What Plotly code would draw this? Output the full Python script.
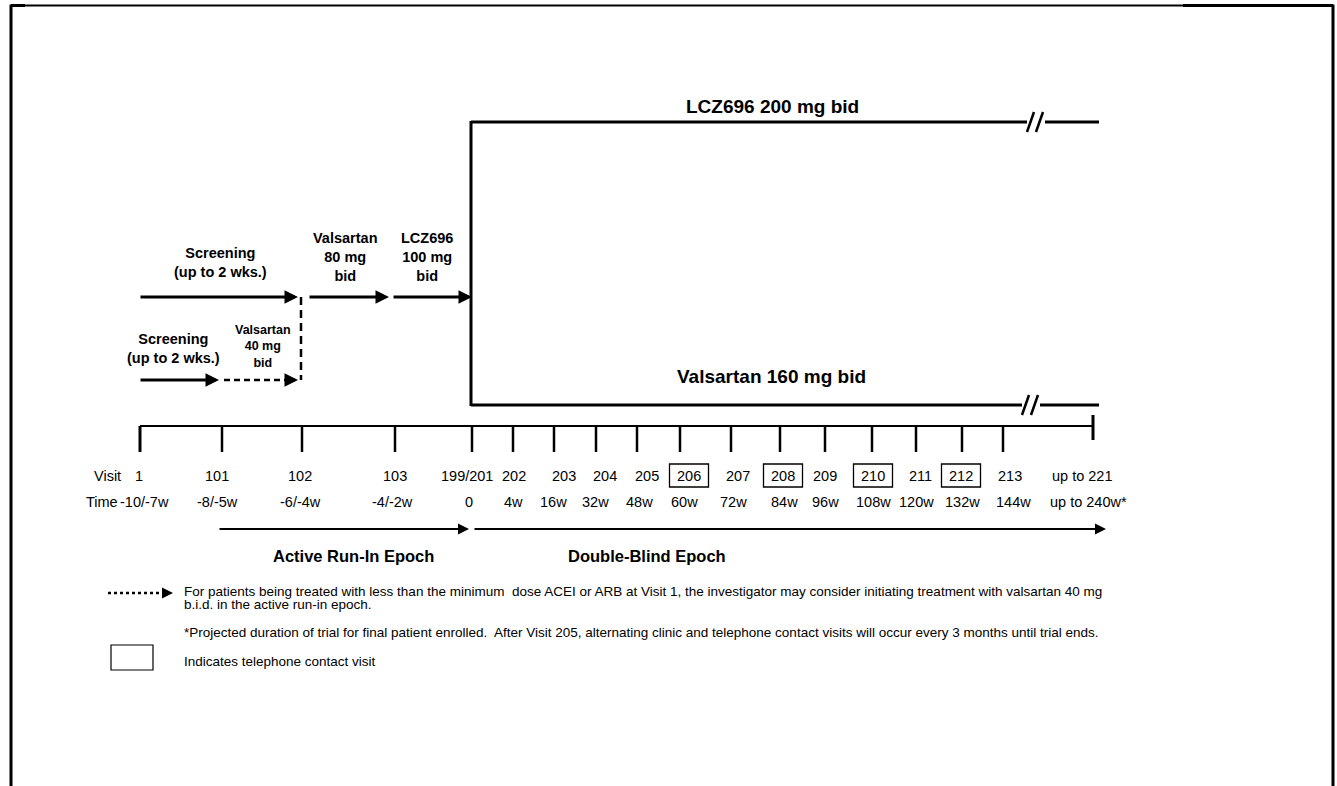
import plotly.graph_objects as go

# ---------------- data ----------------
visit_labels = ["1", "101", "102", "103", "199/201", "202", "203", "204", "205",
                "206", "207", "208", "209", "210", "211", "212", "213", "up to 221"]
time_labels = ["-10/-7w", "-8/-5w", "-6/-4w", "-4/-2w", "0", "4w", "16w", "32w", "48w",
               "60w", "72w", "84w", "96w", "108w", "120w", "132w", "144w", "up to 240w*"]
# position of each visit along the (schematic) timeline
visit_pos = [140, 222, 302, 395, 472, 513, 554, 596, 637, 680, 731, 780, 825, 872,
             916, 962, 1003, 1093]
phone_visits = ["206", "208", "210", "212"]

arm_labels = ["LCZ696 200 mg bid", "Valsartan 160 mg bid"]
runin_labels = ["Valsartan<br>80 mg<br>bid", "LCZ696<br>100 mg<br>bid"]
screening_label = "Screening<br>(up to 2 wks.)"
low_dose_label = "Valsartan<br>40 mg<br>bid"
epoch_labels = ["Active Run-In Epoch", "Double-Blind Epoch"]
footnotes = [
    "For patients being treated with less than the minimum  dose ACEI or ARB at Visit 1, the investigator may consider initiating treatment with valsartan 40 mg",
    "b.i.d. in the active run-in epoch.",
    "*Projected duration of trial for final patient enrolled.  After Visit 205, alternating clinic and telephone contact visits will occur every 3 months until trial ends.",
    "Indicates telephone contact visit",
]

# ---------------- layout helpers ----------------
W, H = 1337, 786
FONT = "Liberation Sans, Arial, sans-serif"
visit_nudge = [-1, -5, -2, 0, -5, 1, 10, 9, 10, 9, 7, 3, 0, 1, 4, -1, 7, -11]
time_nudge = [4, -5, -2, -3, -3, 0, -1, -1, 2, 4, 2, 4, 0, 1, 0, 0, 10, -5]

shapes = []
annotations = []


def line(x0, y0, x1, y1, width=2.5, dash="solid"):
    shapes.append(dict(type="line", xref="x", yref="y", x0=x0, y0=y0, x1=x1, y1=y1,
                       line=dict(color="black", width=width, dash=dash)))


def arrow(x_tail, x_head, y, width=3, size=0.9):
    annotations.append(dict(x=x_head, y=y, ax=x_tail, ay=y, xref="x", yref="y",
                            axref="x", ayref="y", text="", showarrow=True,
                            arrowhead=2, arrowsize=size, arrowwidth=width,
                            arrowcolor="black", standoff=0, startstandoff=0))


def text(x, y, s, size=14, bold=False, anchor="center"):
    if bold:
        s = "<b>" + s.replace("<br>", "</b><br><b>") + "</b>"
    annotations.append(dict(x=x, y=y, xref="x", yref="y", text=s, showarrow=False,
                            xanchor=anchor, yanchor="middle",
                            align=anchor if anchor != "center" else "center",
                            font=dict(family=FONT, size=size, color="black")))


# ---------------- frame ----------------
line(11, 5.5, 1333, 5.5, width=2)
line(1183, 5.5, 1333, 5.5, width=3)
line(11, 5.5, 25, 5.5, width=3)
line(11, 4.5, 11, 790, width=3)
line(1333, 4.5, 1333, 790, width=3)

# ---------------- randomisation arms ----------------
x_rand = visit_pos[4] - 1
y_top, y_bot = 122, 405
line(x_rand, y_top - 1, x_rand, y_bot + 1, width=3)
for yy, brk_x in ((y_top, 1027), (y_bot, 1022)):
    line(x_rand, yy, brk_x, yy, width=3)
    line(brk_x + 18, yy, 1099, yy, width=3)
    for dx in (0, 9):
        line(brk_x + dx, yy + 10, brk_x + dx + 7, yy - 10, width=2.5)
text(772, 106, arm_labels[0], size=19, bold=True)
text(771, 376, arm_labels[1], size=19, bold=True)

# ---------------- run-in ----------------
y_up, y_low = 297, 380
arrow(139, 298, y_up)
arrow(308, 389, y_up)
arrow(392, x_rand + 1, y_up)
arrow(139, 219, y_low)
line(224, y_low, 290, y_low, width=2.5, dash="6px,4px")
arrow(289, 298, y_low)
line(301, y_up, 301, y_low, width=2.5, dash="8px,5px")

text(220, 262, screening_label, size=14.5, bold=True)
text(173, 348, screening_label, size=14.5, bold=True)
text(263, 346, low_dose_label, size=12.5, bold=True)
text(345, 257, runin_labels[0], size=14.5, bold=True)
text(427, 257, runin_labels[1], size=14.5, bold=True)

# ---------------- timeline ----------------
y_axis = 426
line(visit_pos[0], y_axis, visit_pos[-1], y_axis, width=2)
for i, xp in enumerate(visit_pos):
    if i == len(visit_pos) - 1:
        line(xp, 415, xp, 440, width=3)
    else:
        line(xp, y_axis, xp, 452, width=3 if i == 0 else 2.5)

y_visit, y_time = 476, 502
text(92, y_visit, "Visit", size=14.5, anchor="left")
text(84, y_time, "Time", size=14.5, anchor="left")
for i, (v, t, xp) in enumerate(zip(visit_labels, time_labels, visit_pos)):
    xv = xp + visit_nudge[i]
    text(xv, y_visit, v, size=14.5)
    text(xp + time_nudge[i], y_time, t, size=14.5)
    if v in phone_visits:
        shapes.append(dict(type="rect", xref="x", yref="y", x0=xv - 19.5, x1=xv + 19.5,
                           y0=464, y1=487, line=dict(color="black", width=1.3)))

# ---------------- epochs ----------------
y_ep = 529
arrow(visit_pos[1] - 4, x_rand - 2, y_ep, width=2, size=1.1)
arrow(x_rand + 2, 1106, y_ep, width=2, size=1.1)
text(353, 556, epoch_labels[0], size=16.5, bold=True)
text(647, 556, epoch_labels[1], size=16.5, bold=True)

# ---------------- footnotes ----------------
line(108, 593, 166, 593, width=2.5, dash="dot")
arrow(164, 173, 593, width=2, size=1.1)
text(182, 591, footnotes[0], size=13.5, anchor="left")
text(182, 604, footnotes[1], size=13.5, anchor="left")
text(182, 632, footnotes[2], size=13.5, anchor="left")
shapes.append(dict(type="rect", xref="x", yref="y", x0=111, x1=153, y0=645, y1=670,
                   line=dict(color="black", width=1.2)))
text(182, 661, footnotes[3], size=13.5, anchor="left")

fig = go.Figure()
fig.add_trace(go.Scatter(x=[0, W], y=[0, H], mode="markers", marker=dict(opacity=0),
                         hoverinfo="skip", showlegend=False))
fig.update_layout(
    width=W, height=H, margin=dict(l=0, r=0, t=0, b=0),
    paper_bgcolor="white", plot_bgcolor="white",
    xaxis=dict(range=[0, W], visible=False, fixedrange=True),
    yaxis=dict(range=[H, 0], visible=False, fixedrange=True),
    shapes=shapes, annotations=annotations, showlegend=False,
)
fig.write_html(
    "out.html",
    config={"displayModeBar": False},
    post_script="document.body.style.margin='0';document.body.style.overflow='hidden';",
)
